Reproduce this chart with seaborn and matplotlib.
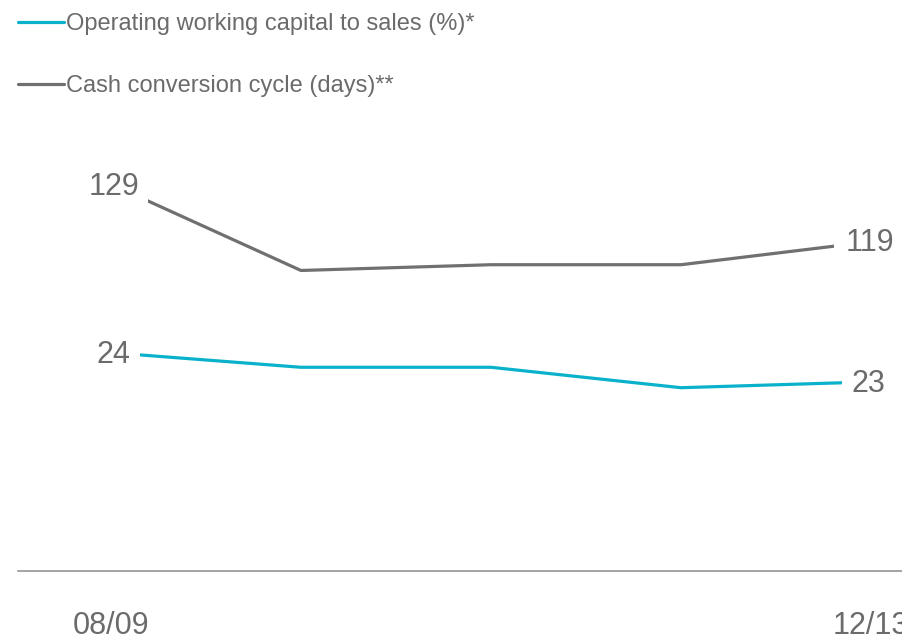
import matplotlib
matplotlib.use("Agg")
import matplotlib.pyplot as plt
from matplotlib.patches import Rectangle
from matplotlib.lines import Line2D
import seaborn as sns
import pandas as pd

# Fiscal years and the two working-capital metrics
periods = ["08/09", "09/10", "10/11", "11/12", "12/13"]
owc_to_sales = [24, 23.5, 23.5, 22.8, 23]          # %
cash_conversion = [129, 114, 115, 115, 119]         # days

owc_label = "Operating working capital to sales (%)*"
ccc_label = "Cash conversion cycle (days)**"

BLUE = "#0ab1cb"
GREY = "#707070"
TEXT = "#6b6b6b"

sns.set_theme(style="white")
plt.rcParams["font.family"] = ["Liberation Sans", "DejaVu Sans"]

df = pd.DataFrame({
    "pos": range(len(periods)),
    "period": periods,
    "owc": owc_to_sales,
    "ccc": cash_conversion,
})

fig = plt.figure(figsize=(9.03, 6.42), dpi=100)
ax = fig.add_axes([18 / 903, 71 / 642, 885 / 903, 441 / 642])
ax2 = ax.twinx()

sns.lineplot(data=df, x="pos", y="ccc", ax=ax, color=GREY, linewidth=2.3)
sns.lineplot(data=df, x="pos", y="owc", ax=ax2, color=BLUE, linewidth=2.3)

ax.set_xlim(-0.489, 4.168)
ax.set_ylim(61.8, 138.4)
ax2.set_ylim(16.52, 31.63)

# trim line ends so the value labels sit beside them
for axis, inset in ((ax, 0.195), (ax2, 0.153)):
    line = axis.lines[-1]
    clip = Rectangle((inset, -1e4), len(periods) - 1 - 2 * inset, 2e4,
                     transform=axis.transData)
    line.set_clip_path(clip)

# end-point value labels
lab = dict(fontsize=22, color=TEXT, va="center", textcoords="offset points")
ax.annotate(f"{cash_conversion[0]}", (0.195, cash_conversion[0]), xytext=(-6.5, -2), ha="right", **lab)
ax.annotate(f"{cash_conversion[-1]}", (4 - 0.195, cash_conversion[-1]), xytext=(8, -1), ha="left", **lab)
ax2.annotate(f"{owc_to_sales[0]}", (0.153, owc_to_sales[0]), xytext=(-7, -2), ha="right", **lab)
ax2.annotate(f"{owc_to_sales[-1]}", (4 - 0.153, owc_to_sales[-1]), xytext=(6.5, -1.5), ha="left", **lab)

# axes styling: only a thin baseline and the first/last period labels
for a in (ax, ax2):
    for s in ("top", "left", "right"):
        a.spines[s].set_visible(False)
    a.set_yticks([])
    a.set_ylabel("")
    a.set_xlabel("")
ax2.spines["bottom"].set_visible(False)
ax.spines["bottom"].set_color("#8c8c8c")
ax.spines["bottom"].set_linewidth(1.1)
ax.set_xticks([0, len(periods) - 1])
ax.set_xticklabels([periods[0], periods[-1]], fontsize=22, color=TEXT)
ax.tick_params(axis="x", length=0, pad=29)

handles = [Line2D([], [], color=BLUE, lw=2.3), Line2D([], [], color=GREY, lw=2.3)]
leg = fig.legend(handles, [owc_label, ccc_label], loc="upper left",
                 bbox_to_anchor=(18 / 903, 1 - 13 / 642), frameon=False,
                 fontsize=17, handlelength=1.95, handletextpad=0.1,
                 labelspacing=1.7, borderpad=0, borderaxespad=0)
for t in leg.get_texts():
    t.set_color(TEXT)

fig.savefig("out.png", dpi=100)
